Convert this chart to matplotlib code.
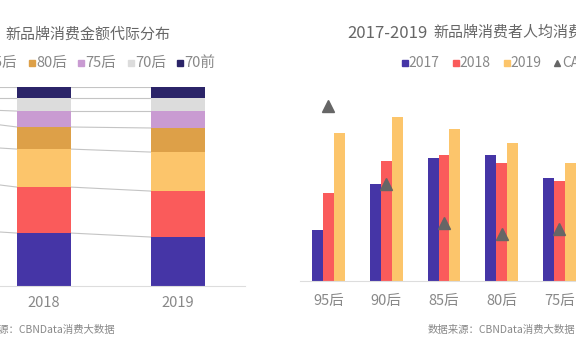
import matplotlib.pyplot as plt
from matplotlib.lines import Line2D

plt.rcParams['font.family'] = ['Noto Sans CJK SC', 'DejaVu Sans']

W, H = 576, 356

# left chart: share of new-brand spending by generation (%)
years = ['2017', '2018', '2019']
gens = ['95后', '90后', '85后', '80后', '75后', '70后', '70前']
share_95 = [29.1, 26.6, 24.6]
share_90 = [25.6, 23.1, 23.1]
share_85 = [16.6, 19.1, 19.6]
share_80 = [13.6, 11.1, 12.1]
share_75 = [4.5, 8.0, 8.5]
share_70 = [5.0, 6.5, 6.5]
share_70q = [5.5, 5.5, 5.5]
gen_colors = ['#4535a6', '#fa5b5b', '#fcc56b', '#dda048', '#c99bd2', '#dcdcdc', '#2b2468']

# right chart: spend per consumer (relative units) and growth markers
groups = ['95后', '90后', '85后', '80后', '75后']
spend_2017 = [51, 97, 123, 126, 103]
spend_2018 = [88, 120, 126, 118, 100]
spend_2019 = [148, 164, 152, 138, 118]
cagr = [175, 97, 58, 47, 52]
year_colors = ['#4535a6', '#fa5b5b', '#fcc56b']

grey_txt = '#888888'


def fx(x):
    return x / W


def fy(y):
    return 1 - y / H


fig = plt.figure(figsize=(W / 100, H / 100), dpi=100)
fig.patch.set_facecolor('white')

# ---- left: stacked 100% bars
ax1 = fig.add_axes([fx(-140), fy(286), 385 / W, 199 / H])
shares = [share_95, share_90, share_85, share_80, share_75, share_70, share_70q]
bw = 0.403
xs = range(len(years))
bottom = [0.0] * len(years)
for vals, col in zip(shares, gen_colors):
    ax1.bar(xs, vals, bw, bottom=bottom, color=col, zorder=2)
    bottom = [b + v for b, v in zip(bottom, vals)]
    for i in range(len(years) - 1):
        ax1.plot([i + bw / 2, i + 1 - bw / 2], [bottom[i], bottom[i + 1]],
                 color='#c4c4c4', lw=0.8, zorder=1)
ax1.set_xlim(-0.373, 2.5)
ax1.set_ylim(0, 100)
ax1.set_yticks([])
ax1.set_xticks(list(xs), years)
ax1.tick_params(axis='x', length=0, pad=7, labelsize=10.5, labelcolor=grey_txt)
for s in ['left', 'right', 'top']:
    ax1.spines[s].set_visible(False)
ax1.spines['bottom'].set_color('#dddddd')
ax1.patch.set_alpha(0)

# ---- right: grouped bars
ax2 = fig.add_axes([fx(300), fy(281), 400 / W, 201 / H])
bw2 = 0.19
gx = list(range(len(groups)))
for k, (vals, col) in enumerate(zip([spend_2017, spend_2018, spend_2019], year_colors)):
    ax2.bar([g + (k - 1) * bw2 for g in gx], vals, bw2, color=col, zorder=2)
ax2.plot(gx, cagr, '^', color='#666666', ms=8, clip_on=False, zorder=5)
ax2.set_xlim(-0.4935, -0.4935 + 400 / 57.75)
ax2.set_ylim(0, 201)
ax2.set_yticks([])
ax2.set_xticks(gx, groups)
ax2.tick_params(axis='x', length=0, pad=9, labelsize=10.5, labelcolor=grey_txt)
for s in ['left', 'right', 'top']:
    ax2.spines[s].set_visible(False)
ax2.spines['bottom'].set_color('#dddddd')
ax2.patch.set_alpha(0)

# ---- titles
fig.text(fx(5), fy(35), '新品牌消费金额代际分布', fontsize=10.8, color='#666666', va='center')
fig.text(fx(347), fy(33), '2017-2019', fontsize=12, color='#666666', va='center')
fig.text(fx(433), fy(33), '新品牌消费者人均消费金额及增速', fontsize=10.8,
         color='#666666', va='center')

# ---- legends
for k, (g, col) in enumerate(zip(gens, gen_colors)):
    x0 = 31.5 + (k - 3) * 49.5
    fig.add_artist(Line2D([fx(x0)], [fy(63)], marker='s', ms=4.3, color=col,
                          linestyle='none', transform=fig.transFigure))
    fig.text(fx(x0 + 4.5), fy(63), g, fontsize=10.5, color=grey_txt, va='center')

for k, (y, col) in enumerate(zip(years, year_colors)):
    x0 = 404.5 + k * 51
    fig.add_artist(Line2D([fx(x0)], [fy(63)], marker='s', ms=4.3, color=col,
                          linestyle='none', transform=fig.transFigure))
    fig.text(fx(x0 + 4), fy(63), y, fontsize=10, color=grey_txt, va='center')
fig.add_artist(Line2D([fx(557)], [fy(63)], marker='^', ms=4.5, color='#666666',
                      linestyle='none', transform=fig.transFigure))
fig.text(fx(562), fy(63), 'CAGR', fontsize=10, color=grey_txt, va='center')

# ---- source notes
fig.text(fx(115), fy(330), '数据来源：CBNData消费大数据', fontsize=7.5, color=grey_txt,
         va='center', ha='right')
fig.text(fx(575), fy(330), '数据来源：CBNData消费大数据', fontsize=7.5, color=grey_txt,
         va='center', ha='right')

fig.savefig('out.png', dpi=100)
